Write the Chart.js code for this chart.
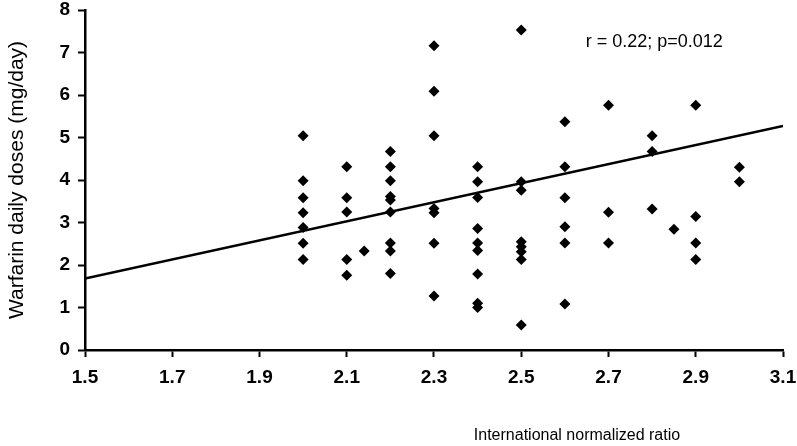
<!DOCTYPE html>
<html>
<head>
<meta charset="utf-8">
<script src="https://cdn.jsdelivr.net/npm/chart.js@4.4.1/dist/chart.umd.min.js"></script>
<style>
  html, body { margin: 0; padding: 0; background: #fff; }
  #wrap { width: 797px; height: 446px; }
</style>
</head>
<body>
<div id="wrap"><canvas id="inrChart" width="797" height="446"></canvas></div>
<script>
// INR readings and matching warfarin doses
const inrValues = [
  2.0, 2.0, 2.0, 2.0, 2.0, 2.0, 2.0,
  2.1, 2.1, 2.1, 2.1, 2.1,
  2.14,
  2.2, 2.2, 2.2, 2.2, 2.2, 2.2, 2.2, 2.2, 2.2,
  2.3, 2.3, 2.3, 2.3, 2.3, 2.3, 2.3,
  2.4, 2.4, 2.4, 2.4, 2.4, 2.4, 2.4, 2.4, 2.4,
  2.5, 2.5, 2.5, 2.5, 2.5, 2.5, 2.5, 2.5,
  2.6, 2.6, 2.6, 2.6, 2.6, 2.6,
  2.7, 2.7, 2.7,
  2.8, 2.8, 2.8,
  2.85,
  2.9, 2.9, 2.9, 2.9,
  3.0, 3.0
];
const doseValues = [
  5.04, 3.98, 3.58, 3.23, 2.88, 2.51, 2.13,
  4.31, 3.58, 3.25, 2.13, 1.76,
  2.33,
  4.67, 4.31, 3.98, 3.61, 3.53, 3.25, 2.52, 2.33, 1.80,
  7.16, 6.09, 5.04, 3.33, 3.23, 2.51, 1.27,
  4.31, 3.96, 3.59, 2.86, 2.52, 2.34, 1.79, 1.10, 1.00,
  7.53, 3.96, 3.76, 2.55, 2.43, 2.31, 2.13, 0.59,
  5.37, 4.31, 3.58, 2.90, 2.52, 1.08,
  5.76, 3.24, 2.52,
  5.04, 4.67, 3.32,
  2.84,
  5.76, 3.14, 2.52, 2.13,
  4.30, 3.96
];

// regression line end points
const fitX = [1.5, 3.1];
const fitY = [1.68, 5.27];

const xTicks = [1.5, 1.7, 1.9, 2.1, 2.3, 2.5, 2.7, 2.9, 3.1];
const yTicks = [0, 1, 2, 3, 4, 5, 6, 7, 8];

const statText = 'r = 0.22; p=0.012';
const xTitle = 'International normalized ratio';
const yTitle = 'Warfarin daily doses (mg/day)';

const fontFamily = '"Liberation Sans", Arial, sans-serif';

const scatterPoints = inrValues.map((x, i) => ({ x: x, y: doseValues[i] }));
const fitPoints = fitX.map((x, i) => ({ x: x, y: fitY[i] }));

// extra texts: stat label and x axis title (sits off-centre in the original)
const textPlugin = {
  id: 'textPlugin',
  afterDraw(chart) {
    const ctx = chart.ctx;
    const xs = chart.scales.x;
    const ys = chart.scales.y;
    ctx.save();
    ctx.fillStyle = '#000';
    ctx.textAlign = 'center';
    ctx.textBaseline = 'middle';
    ctx.font = '18px ' + fontFamily;
    ctx.fillText(statText, xs.getPixelForValue(2.805), ys.getPixelForValue(7.25));
    ctx.font = '16px ' + fontFamily;
    ctx.fillText(xTitle, 577, 436);
    ctx.restore();
  }
};

new Chart(document.getElementById('inrChart').getContext('2d'), {
  type: 'scatter',
  data: {
    datasets: [
      {
        label: 'Patients',
        data: scatterPoints,
        pointStyle: 'rectRot',
        pointRadius: 5.5,
        pointBackgroundColor: '#000',
        pointBorderColor: '#000',
        pointBorderWidth: 0
      },
      {
        type: 'line',
        label: 'Fit',
        data: fitPoints,
        borderColor: '#000',
        borderWidth: 2.5,
        pointRadius: 0,
        fill: false
      }
    ]
  },
  options: {
    responsive: false,
    animation: false,
    layout: { padding: { top: 10, right: 14, left: 0, bottom: 0 } },
    plugins: {
      legend: { display: false },
      tooltip: { enabled: false }
    },
    scales: {
      x: {
        type: 'linear',
        min: 1.5,
        max: 3.1,
        afterBuildTicks: (scale) => { scale.ticks = xTicks.map(v => ({ value: v })); },
        afterFit: (scale) => { scale.height = 96; scale.paddingRight = 0; scale.paddingLeft = 0; },
        border: { color: '#000', width: 2.5 },
        grid: { drawOnChartArea: false, drawTicks: true, tickLength: 7, tickColor: '#000', tickWidth: 2 },
        ticks: {
          color: '#000',
          padding: 9,
          font: { family: fontFamily, size: 19, weight: 'bold' },
          callback: (v) => v.toFixed(1)
        }
      },
      y: {
        type: 'linear',
        min: 0,
        max: 8,
        afterBuildTicks: (scale) => { scale.ticks = yTicks.map(v => ({ value: v })); },
        afterFit: (scale) => { scale.width = 85; scale.paddingTop = 0; scale.paddingBottom = 0; },
        border: { color: '#000', width: 2.5 },
        grid: { drawOnChartArea: false, drawTicks: true, tickLength: 7, tickColor: '#000', tickWidth: 2 },
        ticks: {
          color: '#000',
          padding: 8,
          font: { family: fontFamily, size: 19, weight: 'bold' }
        },
        title: {
          display: true,
          text: yTitle,
          color: '#000',
          padding: { top: 5, bottom: 0 },
          font: { family: fontFamily, size: 21 }
        }
      }
    }
  },
  plugins: [textPlugin]
});
</script>
</body>
</html>
